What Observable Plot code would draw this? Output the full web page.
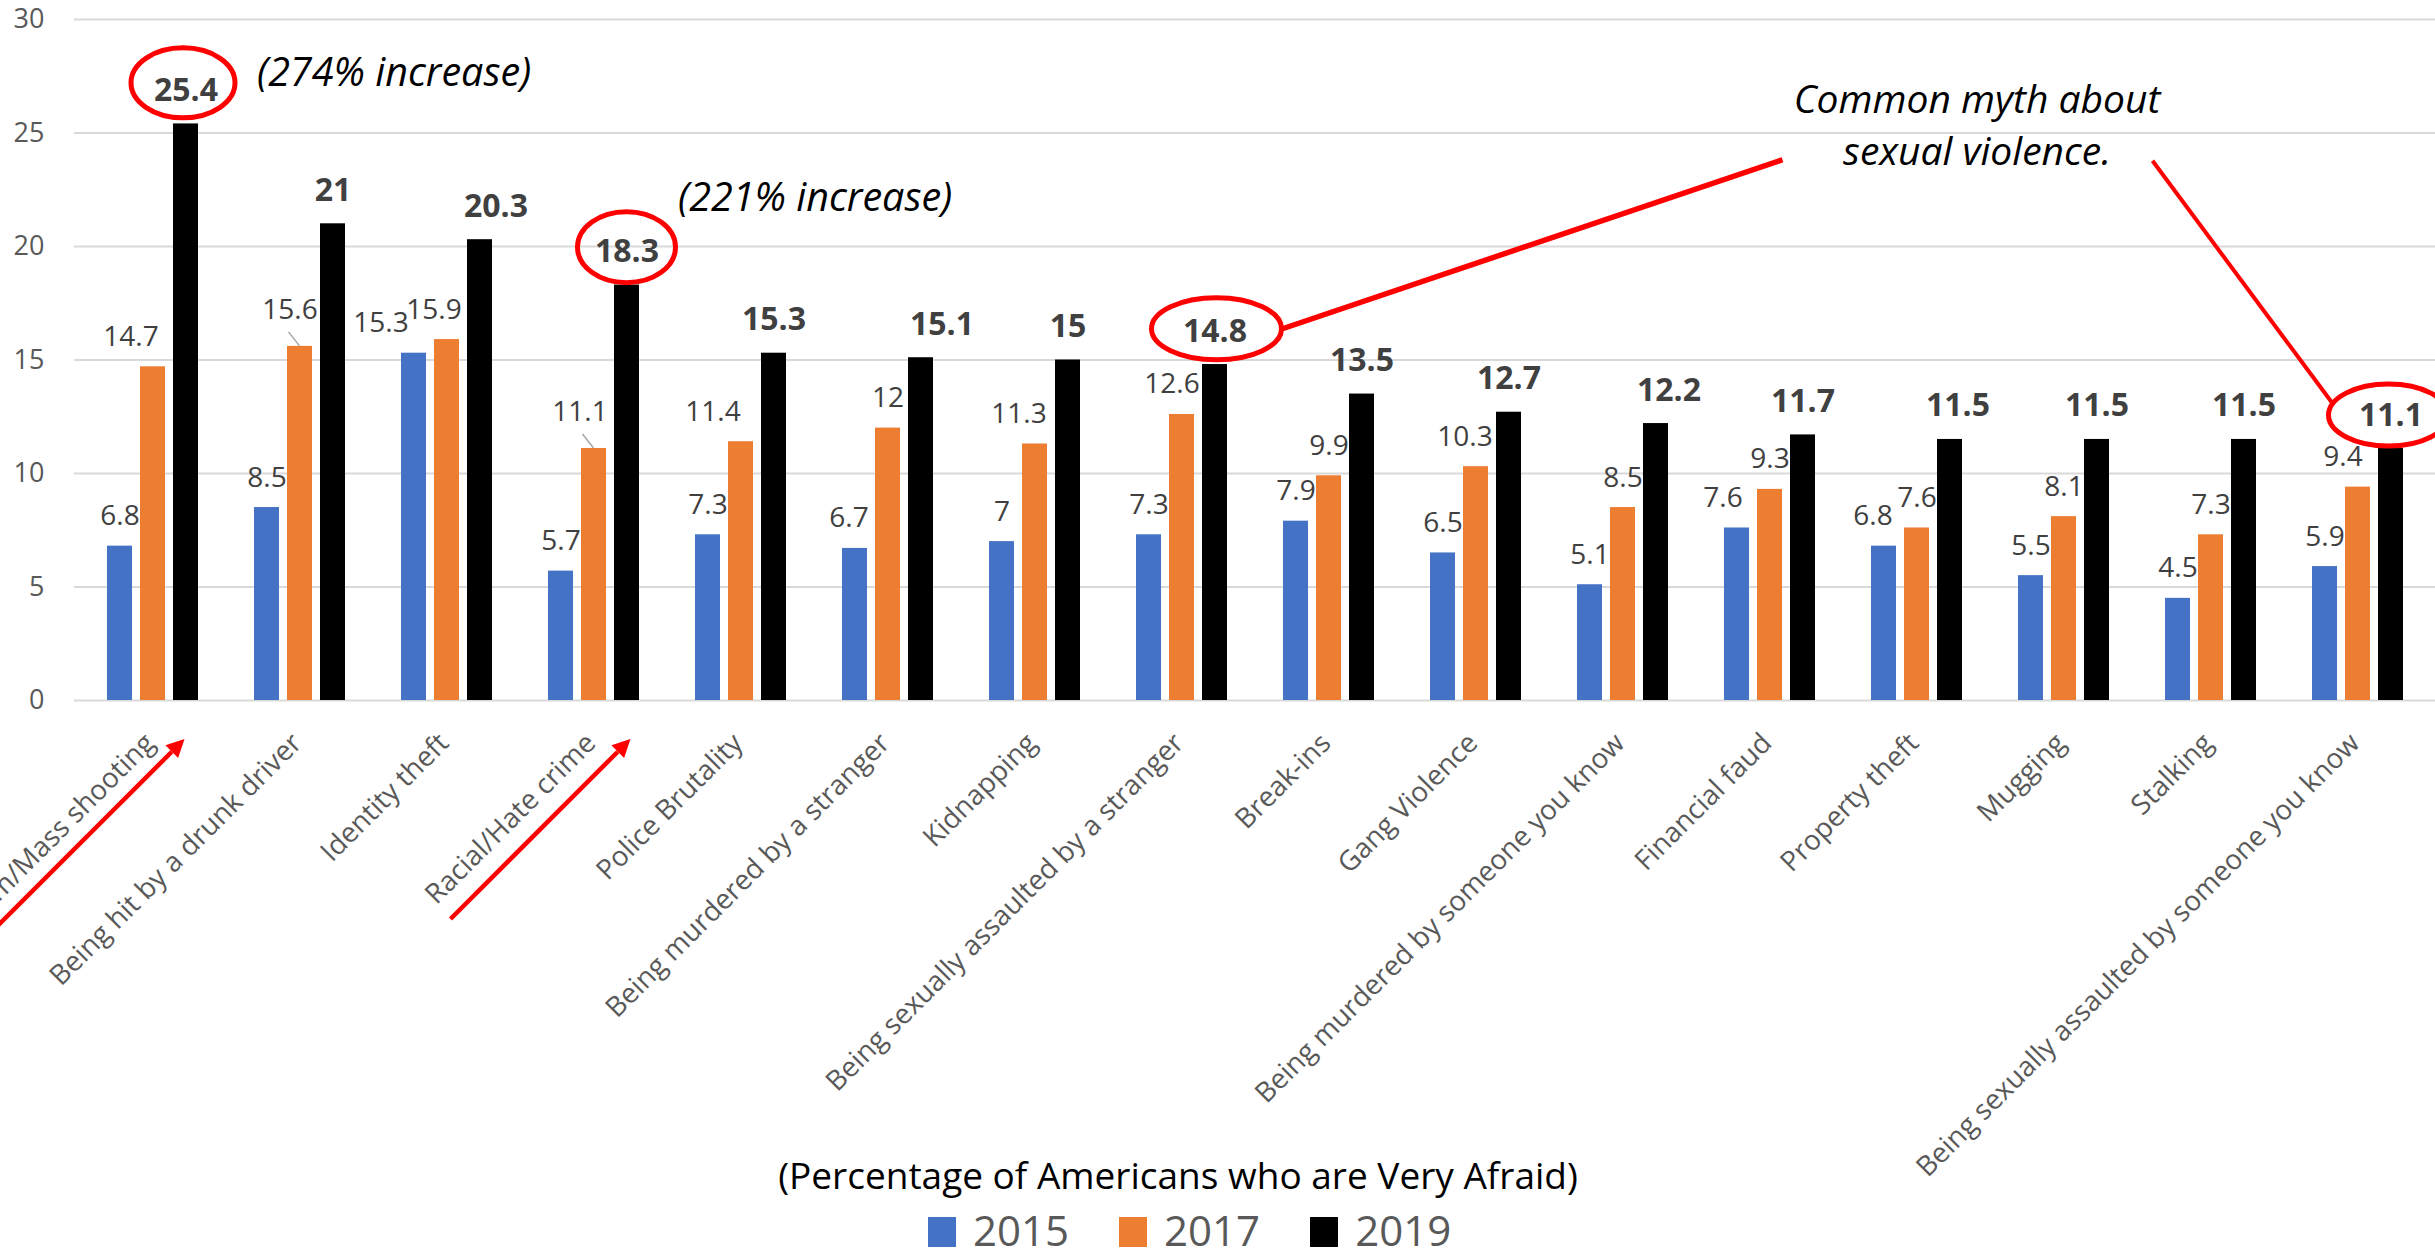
<!DOCTYPE html>
<html>
<head>
<meta charset="utf-8">
<script src="https://cdn.jsdelivr.net/npm/d3@7"></script>
<script src="https://cdn.jsdelivr.net/npm/@observablehq/plot@0.6"></script>
<style>
  html, body { margin: 0; padding: 0; background: #fff; overflow: hidden; }
  #wrap { position: relative; width: 2435px; height: 1259px; font-family: "Open Sans", sans-serif; background: #fff; }
  #chart svg { max-width: none !important; display: block; }
  #title { position: absolute; left: 0; top: 1149px; width: 2356px; text-align: center;
           font-size: 37px; line-height: normal; color: #000; white-space: nowrap; }
  #legend { position: absolute; left: 928px; top: 1201px; display: flex; align-items: center; }
  .item { display: flex; align-items: center; margin-right: 50px; }
  .sw { width: 28px; height: 30px; margin-right: 17px; position: relative; top: 2px; }
  .lab { font-size: 42px; color: #595959; line-height: normal; }
</style>
</head>
<body>
<div id="wrap">
  <div id="chart"></div>
  <div id="title"></div>
  <div id="legend"></div>
</div>
<script>
// ---- data ----
const categories = [
  "Random/Mass shooting",
  "Being hit by a drunk driver",
  "Identity theft",
  "Racial/Hate crime",
  "Police Brutality",
  "Being murdered by a stranger",
  "Kidnapping",
  "Being sexually assaulted by a stranger",
  "Break-ins",
  "Gang Violence",
  "Being murdered by someone you know",
  "Financial faud",
  "Property theft",
  "Mugging",
  "Stalking",
  "Being sexually assaulted by someone you know"
];
const years = ["2015", "2017", "2019"];
const values2015 = [6.8, 8.5, 15.3, 5.7, 7.3, 6.7, 7, 7.3, 7.9, 6.5, 5.1, 7.6, 6.8, 5.5, 4.5, 5.9];
const values2017 = [14.7, 15.6, 15.9, 11.1, 11.4, 12, 11.3, 12.6, 9.9, 10.3, 8.5, 9.3, 7.6, 8.1, 7.3, 9.4];
const values2019 = [25.4, 21, 20.3, 18.3, 15.3, 15.1, 15, 14.8, 13.5, 12.7, 12.2, 11.7, 11.5, 11.5, 11.5, 11.1];
const yTicks = [0, 5, 10, 15, 20, 25, 30];
const axisTitle = "(Percentage of Americans who are Very Afraid)";
const note274 = "(274% increase)";
const note221 = "(221% increase)";
const noteMyth = "Common myth about\nsexual violence.";

// ---- styling ----
const colors = {"2015": "#4472C4", "2017": "#ED7D31", "2019": "#000000"};
const barOffset = {"2015": -33, "2017": 0, "2019": 33};
// manual label placement tweaks seen in the original (px): [year, category, dx, dy]
const labelNudges = [
  ["2015", "Identity theft", -33, 0],
  ["2015", "Being murdered by a stranger", -6, 0],
  ["2015", "Financial faud", -14, 0],
  ["2015", "Property theft", -11, 0],
  ["2017", "Random/Mass shooting", -22, 0],
  ["2017", "Being hit by a drunk driver", -10, -6],
  ["2017", "Identity theft", -13, 0],
  ["2017", "Racial/Hate crime", -14, -7],
  ["2017", "Police Brutality", -28, 0],
  ["2017", "Kidnapping", -16, 0],
  ["2017", "Being sexually assaulted by a stranger", -10, 0],
  ["2017", "Gang Violence", -11, 0],
  ["2017", "Being sexually assaulted by someone you know", -15, 0],
  ["2019", "Identity theft", 16, 0],
  ["2019", "Being murdered by a stranger", 21, 0],
  ["2019", "Being murdered by someone you know", 13, 0],
  ["2019", "Property theft", 8, 0]
];

const series = [values2015, values2017, values2019];
const rows = categories.flatMap((c, i) => years.map((yr, j) => ({category: c, year: yr, value: series[j][i]})));

// bars
const barMarks = years.map(yr => Plot.barY(rows.filter(r => r.year === yr), {
  x: "category", y: "value", fill: colors[yr],
  insetLeft: 61, insetRight: 61, dx: barOffset[yr]
}));

// value labels, grouped by placement
const nudgeOf = r => {
  const n = labelNudges.find(d => d[0] === r.year && d[1] === r.category);
  return n ? [n[2], n[3]] : [0, 0];
};
const labelGroups = d3.group(rows, r => r.year + "|" + nudgeOf(r).join(","));
const labelMarks = [];
for (const [key, list] of labelGroups) {
  const yr = list[0].year;
  const [ndx, ndy] = nudgeOf(list[0]);
  const bold = yr === "2019";
  labelMarks.push(Plot.text(list, {
    x: "category", y: "value", text: d => String(d.value),
    dx: barOffset[yr] + ndx, dy: (bold ? -23 : -21) + ndy,
    lineAnchor: "bottom", textAnchor: "middle",
    fontSize: bold ? 32 : 28, fontWeight: bold ? "bold" : "normal", fill: "#404040"
  }));
}

// category labels under the axis
const xLabels = Plot.text(categories, {
  x: d => d, y: d => 0, text: d => d, rotate: -45,
  textAnchor: "end", lineAnchor: "middle", dx: -3, dy: 38,
  fontSize: 27.8, fill: "#595959"
});

// annotation texts
const annoTexts = [
  Plot.text([note274], {x: () => categories[0], y: () => 27.08, text: d => d, dx: 104,
    textAnchor: "start", lineAnchor: "bottom", fontSize: 39.5, fontStyle: "italic", fill: "#000"}),
  Plot.text([note221], {x: () => categories[3], y: () => 21.58, text: d => d, dx: 84,
    textAnchor: "start", lineAnchor: "bottom", fontSize: 39.5, fontStyle: "italic", fill: "#000"}),
  Plot.text([noteMyth], {x: () => categories[12], y: () => 23.6, text: d => d, dx: 60,
    textAnchor: "middle", lineAnchor: "bottom", lineHeight: 1.33, fontSize: 39, fontStyle: "italic", fill: "#000"})
];

// red shapes drawn through the plot's scales
function annotations(index, scales) {
  const xs = scales.x, ys = scales.y;
  const half = (xs(categories[1]) - xs(categories[0])) / 2;
  const X = (c, off) => xs(c) + half + off;
  const g = d3.create("svg:g");
  const red = "#FF0000";
  // ellipses around the highlighted 2019 values
  const ell = [
    {c: categories[0], v: 25.4, dx: 30.5, dy: -40.6, rx: 52, ry: 35},
    {c: categories[3], v: 18.3, dx: 33, dy: -37.4, rx: 49, ry: 35.5},
    {c: categories[7], v: 14.8, dx: 35, dy: -35.3, rx: 65, ry: 31},
    {c: categories[15], v: 11.1, dx: 31, dy: -33, rx: 60, ry: 31}
  ].map(e => ({cx: X(e.c, e.dx), cy: ys(e.v) + e.dy, rx: e.rx, ry: e.ry}));
  // gray leader lines for two lifted labels
  for (const [c, v] of [[categories[1], 15.6], [categories[3], 11.1]]) {
    g.append("line").attr("x1", X(c, -11)).attr("y1", ys(v) - 14).attr("x2", X(c, 0)).attr("y2", ys(v))
      .attr("stroke", "#A6A6A6").attr("stroke-width", 1.5);
  }
  // connector lines to the "Common myth" note
  const tx = X(categories[12], 60), ty = ys(23.8);
  g.append("line").attr("x1", ell[2].cx + ell[2].rx + 1).attr("y1", ell[2].cy)
    .attr("x2", tx - 194).attr("y2", ty).attr("stroke", red).attr("stroke-width", 5.5);
  g.append("line").attr("x1", tx + 176).attr("y1", ty + 1)
    .attr("x2", ell[3].cx - 57).attr("y2", ell[3].cy - 13).attr("stroke", red).attr("stroke-width", 4);
  for (const e of ell) {
    g.append("ellipse").attr("cx", e.cx).attr("cy", e.cy).attr("rx", e.rx).attr("ry", e.ry)
      .attr("fill", "none").attr("stroke", red).attr("stroke-width", 5);
  }
  // arrows under the axis pointing at the two categories
  const arrows = [
    {c: categories[0], off: 32, len: 186},
    {c: categories[3], off: 37, len: 180}
  ];
  const u = [Math.SQRT1_2, -Math.SQRT1_2], n = [Math.SQRT1_2, Math.SQRT1_2];
  for (const a of arrows) {
    const tip = [X(a.c, a.off), ys(0) + 39];
    const tail = [tip[0] - a.len, tip[1] + a.len];
    const base = [tip[0] - 18 * u[0], tip[1] - 18 * u[1]];
    g.append("line").attr("x1", tail[0]).attr("y1", tail[1]).attr("x2", base[0]).attr("y2", base[1])
      .attr("stroke", red).attr("stroke-width", 4.5);
    g.append("path").attr("d", `M${tip}L${base[0] + 9 * n[0]},${base[1] + 9 * n[1]}L${base[0] - 9 * n[0]},${base[1] - 9 * n[1]}Z`)
      .attr("fill", red);
  }
  return g.node();
}

const chart = Plot.plot({
  width: 2435,
  height: 1200,
  marginLeft: 74,
  marginRight: 0,
  marginTop: 19,
  marginBottom: 500,
  style: {fontFamily: "'Open Sans', sans-serif", fontSize: "27px", color: "#595959", background: "transparent"},
  x: {domain: categories, padding: 0, axis: null},
  y: {domain: [0, 30], ticks: yTicks, tickSize: 0, tickPadding: 30, label: null, tickFormat: d => String(d)},
  marks: [
    Plot.ruleY(yTicks, {stroke: "#D9D9D9", strokeWidth: 2}),
    ...barMarks,
    ...labelMarks,
    xLabels,
    ...annoTexts,
    annotations
  ]
});
document.getElementById("chart").appendChild(chart);

document.getElementById("title").textContent = axisTitle;
const legend = d3.select("#legend");
for (const yr of years) {
  const it = legend.append("div").attr("class", "item");
  it.append("div").attr("class", "sw").style("background", colors[yr]);
  it.append("div").attr("class", "lab").text(yr);
}
</script>
</body>
</html>
